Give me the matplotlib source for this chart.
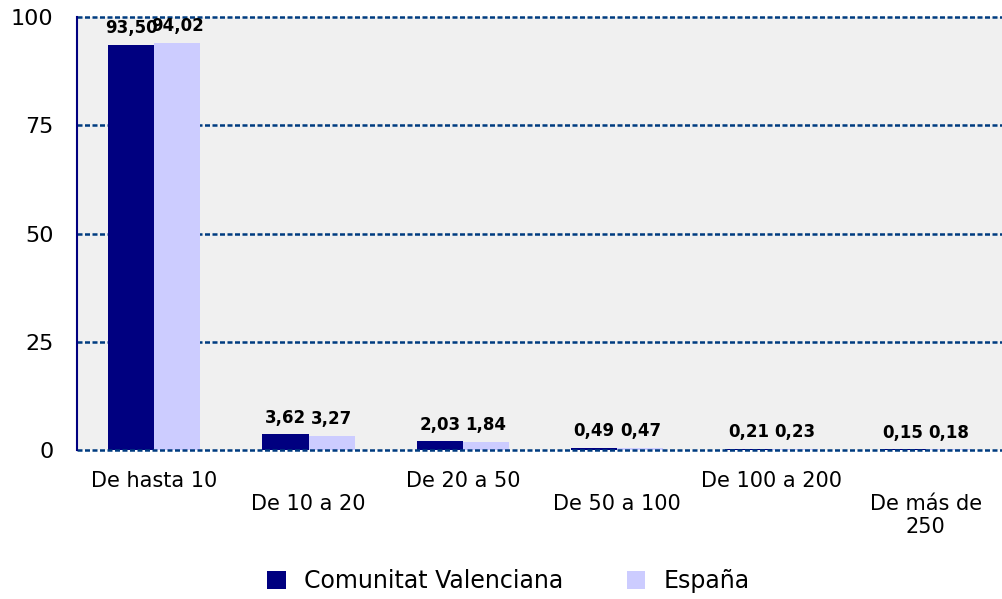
import numpy as np
import matplotlib.pyplot as plt
from matplotlib.patches import Patch

plt.rcParams['font.family'] = ['DejaVu Sans']

# categorías y valores (%)
categorias = ['De hasta 10', 'De 10 a 20', 'De 20 a 50', 'De 50 a 100',
              'De 100 a 200', 'De más de\n250']
valenciana = [93.50, 3.62, 2.03, 0.49, 0.21, 0.15]
espana = [94.02, 3.27, 1.84, 0.47, 0.23, 0.18]
yticks = [0, 25, 50, 75, 100]

col_cv = '#000080'
col_es = '#ccccff'
col_grid = '#003c80'

fig = plt.figure(figsize=(10.03, 5.99), dpi=100)
ax = fig.add_axes([0.0768, 0.2487, 0.9232, 0.7229])
ax.set_facecolor('#f0f0f0')

x = np.arange(len(categorias))
w = 0.3
b1 = ax.bar(x - w / 2, valenciana, w, color=col_cv, zorder=3)
b2 = ax.bar(x + w / 2, espana, w, color=col_es, zorder=3)

def fmt(v):
    return ('%.2f' % v).replace('.', ',')

for bars, vals in ((b1, valenciana), (b2, espana)):
    for r, v in zip(bars, vals):
        ax.annotate(fmt(v), (r.get_x() + r.get_width() / 2, v),
                    xytext=(0, 12), textcoords='offset points',
                    ha='center', va='center', fontsize=12, fontweight='bold',
                    zorder=5)

ax.set_xlim(-0.5, len(categorias) - 0.5)
ax.set_ylim(0, 100)
ax.set_yticks(yticks)
ax.set_yticklabels([str(t) for t in yticks], fontsize=16)
for t in yticks:
    ax.axhline(t, color=col_grid, linestyle=(0, (2, 1)), linewidth=1.8,
               zorder=4 if t == 0 else 1, clip_on=False)
ax.tick_params(axis='y', length=0, pad=17)
ax.tick_params(axis='x', length=0)
ax.set_xticks(x)
ax.set_xticklabels([])
for i, lab in enumerate(categorias):
    dy = -15 if i % 2 == 0 else -32
    ax.annotate(lab, (i, 0), xytext=(0, dy), textcoords='offset points',
                xycoords='data', ha='center', va='top', fontsize=15,
                linespacing=1.15, annotation_clip=False)

for s in ['top', 'right', 'bottom']:
    ax.spines[s].set_visible(False)
ax.spines['left'].set_color(col_cv)
ax.spines['left'].set_linewidth(1.5)
ax.spines['left'].set_zorder(5)

handles = [Patch(facecolor=col_cv, label='Comunitat Valenciana'),
           Patch(facecolor=col_es, label='España')]
fig.legend(handles=handles, loc='center', bbox_to_anchor=(0.507, 0.03),
           ncol=2, frameon=False, fontsize=17, handlelength=0.8,
           handleheight=0.8, columnspacing=2.67, handletextpad=0.76)

fig.savefig('out.png', dpi=100)
